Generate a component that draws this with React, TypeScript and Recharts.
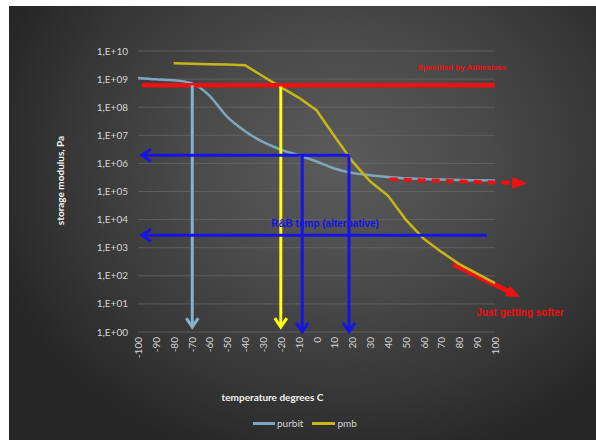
import React from 'react';
import {
  ComposedChart,
  Line,
  XAxis,
  YAxis,
  CartesianGrid,
  ReferenceLine,
  ReferenceDot,
  Label,
} from 'recharts';

// ---- data ----
const temps = [-100, -90, -80, -70, -60, -50, -40, -30, -20, -10, 0, 10, 20, 30, 40, 50, 60, 70, 80, 90, 100];
const purbit = [1.1e9, 9.8e8, 9.1e8, 7.2e8, 2.6e8, 4.5e7, 1.4e7, 5.8e6, 3.1e6, 1.95e6, 1.17e6, 6.6e5, 4.6e5, 3.8e5, 3.3e5, 2.95e5, 2.8e5, 2.65e5, 2.55e5, 2.5e5, 2.45e5];
const pmb = [null, null, 3.7e9, 3.55e9, 3.4e9, 3.3e9, 3.1e9, 1.26e9, 5.2e8, 2.2e8, 7.8e7, 9.5e6, 1.2e6, 2.3e5, 7.2e4, 1.0e4, 2.1e3, 7.1e2, 2.6e2, 1.2e2, 55];
const yTicks = [1, 1e1, 1e2, 1e3, 1e4, 1e5, 1e6, 1e7, 1e8, 1e9, 1e10];
const seriesNames = ['purbit', 'pmb'];
const axisTitles = { x: 'temperature degrees C', y: 'storage modulus, Pa' };
const notes = {
  spec: 'Specified by Adhesives',
  rb: 'R&B temp (alternative)',
  softer: 'Just getting softer',
};

const data = temps.map((t, i) => ({ t, purbit: purbit[i], pmb: pmb[i] }));

const FONT = 'Lato, "Open Sans", sans-serif';
const NOTE_FONT = '"Liberation Sans", Arial, sans-serif';
const C_PURBIT = '#7ea7bd';
const C_PMB = '#c8b617';
const C_RED = '#ee1111';
const C_BLUE = '#1414e6';
const C_YELLOW = '#ffff10';
const C_LBLUE = '#84b3c9';

const fmtY = (v: number) => {
  const e = Math.round(Math.log10(v));
  return '1,E+' + (e < 10 ? '0' + e : String(e));
};

type ArrowOpts = { color: string; width: number; head: number; half: number; filled?: boolean; dash?: string };
const arrow = (o: ArrowOpts) => (props: any) => {
  const { x1, y1, x2, y2 } = props;
  const dx = x2 - x1;
  const dy = y2 - y1;
  const len = Math.hypot(dx, dy) || 1;
  const ux = dx / len;
  const uy = dy / len;
  const px = -uy;
  const py = ux;
  const bx = x2 - ux * o.head;
  const by = y2 - uy * o.head;
  if (o.filled) {
    return (
      <g>
        <line x1={x1} y1={y1} x2={bx} y2={by} stroke={o.color} strokeWidth={o.width} strokeDasharray={o.dash} />
        <polygon
          points={`${x2},${y2} ${bx + px * o.half},${by + py * o.half} ${bx - px * o.half},${by - py * o.half}`}
          fill={o.color}
        />
      </g>
    );
  }
  return (
    <g>
      <line x1={x1} y1={y1} x2={x2 - ux * 1.5} y2={y2 - uy * 1.5} stroke={o.color} strokeWidth={o.width} />
      <polyline
        points={`${bx + px * o.half},${by + py * o.half} ${x2},${y2} ${bx - px * o.half},${by - py * o.half}`}
        fill="none"
        stroke={o.color}
        strokeWidth={o.width}
        strokeLinejoin="miter"
      />
    </g>
  );
};

const plainLine = (color: string, width: number) => (props: any) => (
  <line x1={props.x1} y1={props.y1} x2={props.x2} y2={props.y2} stroke={color} strokeWidth={width} />
);

const textMark = (text: string, color: string, size: number) => (props: any) => (
  <text
    x={props.cx}
    y={props.cy}
    textAnchor="middle"
    dominantBaseline="central"
    fill={color}
    fontSize={size}
    fontWeight="bold"
    fontFamily={NOTE_FONT}
  >
    {text}
  </text>
);

const XTick = (props: any) => {
  const { x, y, payload } = props;
  return (
    <text
      x={x}
      y={y}
      transform={`rotate(-90 ${x} ${y})`}
      textAnchor="end"
      dominantBaseline="central"
      fill="#d4d4d4"
      fontSize={10}
      fontFamily={FONT}
    >
      {payload.value}
    </text>
  );
};

export default function App() {
  return (
    <div
      style={{
        position: 'absolute',
        left: 9,
        top: 6,
        width: 587,
        height: 434,
        background:
          'radial-gradient(ellipse 62% 72% at 56% 36%, #5b5b5b 0%, #4a4a4a 40%, #363636 75%, #262626 100%)',
      }}
    >
      <ComposedChart
        width={587}
        height={434}
        data={data}
        margin={{ top: 45, right: 101, left: 0, bottom: 0 }}
      >
        <CartesianGrid horizontal vertical={false} stroke="#6a6a6a" strokeOpacity={0.7} />
        <XAxis
          dataKey="t"
          type="number"
          domain={[-100, 100]}
          ticks={temps}
          interval={0}
          height={108}
          axisLine={false}
          tickLine={false}
          tickSize={0}
          tickMargin={5}
          tick={<XTick />}
        >
          <Label
            content={(p: any) => {
              const vb = p.viewBox;
              return (
                <text
                  x={vb.x + vb.width / 2 - 44}
                  y={vb.y + 65}
                  textAnchor="middle"
                  dominantBaseline="central"
                  fill="#f2f2f2"
                  fontSize={10}
                  fontWeight="bold"
                  fontFamily={FONT}
                >
                  {axisTitles.x}
                </text>
              );
            }}
          />
        </XAxis>
        <YAxis
          type="number"
          scale="log"
          domain={[1, 1e10]}
          allowDataOverflow
          ticks={yTicks}
          tickFormatter={fmtY}
          width={129}
          axisLine={false}
          tickLine={false}
          tickSize={0}
          tickMargin={10}
          tick={{ fill: '#d4d4d4', fontSize: 10, fontFamily: FONT }}
        >
          <Label
            content={(p: any) => {
              const vb = p.viewBox;
              const cx = vb.x + 51;
              const cy = vb.y + vb.height / 2 - 11;
              return (
                <text
                  x={cx}
                  y={cy}
                  transform={`rotate(-90 ${cx} ${cy})`}
                  textAnchor="middle"
                  dominantBaseline="central"
                  fill="#f2f2f2"
                  fontSize={10}
                  fontWeight="bold"
                  fontFamily={FONT}
                >
                  {axisTitles.y}
                </text>
              );
            }}
          />
        </YAxis>

        {/* red arrow along pmb tail (drawn under the series) */}
        <ReferenceLine
          segment={[{ x: 76.6, y: 257 }, { x: 114, y: 17.6 }]}
          ifOverflow="visible"
          shape={arrow({ color: C_RED, width: 5, head: 14, half: 6, filled: true })}
        />

        <Line
          type="monotone"
          dataKey="purbit"
          name={seriesNames[0]}
          stroke={C_PURBIT}
          strokeWidth={2.5}
          dot={false}
          isAnimationActive={false}
        />
        <Line
          type="linear"
          dataKey="pmb"
          name={seriesNames[1]}
          stroke={C_PMB}
          strokeWidth={2.5}
          dot={false}
          connectNulls={false}
          isAnimationActive={false}
        />

        {/* red specification line */}
        <ReferenceLine
          segment={[{ x: -97.8, y: 6e8 }, { x: 100, y: 6e8 }]}
          ifOverflow="visible"
          shape={plainLine(C_RED, 4.5)}
        />
        {/* vertical arrows */}
        <ReferenceLine
          segment={[{ x: -69.6, y: 6e8 }, { x: -69.6, y: 1.5 }]}
          ifOverflow="visible"
          shape={arrow({ color: C_LBLUE, width: 3, head: 9, half: 6 })}
        />
        <ReferenceLine
          segment={[{ x: -20, y: 5.5e8 }, { x: -20, y: 1.5 }]}
          ifOverflow="visible"
          shape={arrow({ color: C_YELLOW, width: 3, head: 9, half: 6 })}
        />
        <ReferenceLine
          segment={[{ x: -8, y: 1.95e6 }, { x: -8, y: 1.02 }]}
          ifOverflow="visible"
          shape={arrow({ color: C_BLUE, width: 3, head: 9, half: 6 })}
        />
        <ReferenceLine
          segment={[{ x: 18.2, y: 1.95e6 }, { x: 18.2, y: 1.02 }]}
          ifOverflow="visible"
          shape={arrow({ color: C_BLUE, width: 3, head: 9, half: 6 })}
        />
        {/* horizontal blue arrows */}
        <ReferenceLine
          segment={[{ x: 18.2, y: 1.95e6 }, { x: -97.8, y: 1.95e6 }]}
          ifOverflow="visible"
          shape={arrow({ color: C_BLUE, width: 3, head: 9, half: 6 })}
        />
        <ReferenceLine
          segment={[{ x: 95.5, y: 2.75e3 }, { x: -97.8, y: 2.75e3 }]}
          ifOverflow="visible"
          shape={arrow({ color: C_BLUE, width: 3, head: 9, half: 6 })}
        />
        {/* red dashed arrow along purbit plateau */}
        <ReferenceLine
          segment={[{ x: 41, y: 2.7e5 }, { x: 118, y: 1.95e5 }]}
          ifOverflow="visible"
          shape={arrow({ color: C_RED, width: 4, head: 15, half: 6, filled: true, dash: '8 6' })}
        />

        {/* annotations */}
        <ReferenceDot x={81.5} y={2.6e9} r={0} ifOverflow="visible" shape={textMark(notes.spec, C_RED, 8)} />
        <ReferenceDot x={4.8} y={7.4e3} r={0} ifOverflow="visible" shape={textMark(notes.rb, C_BLUE, 10)} />
        <ReferenceDot x={114} y={5} r={0} ifOverflow="visible" shape={textMark(notes.softer, C_RED, 10)} />
      </ComposedChart>

      {/* legend */}
      <div
        style={{
          position: 'absolute',
          left: 244,
          top: 411,
          display: 'flex',
          alignItems: 'center',
          fontFamily: FONT,
          fontSize: 10,
          color: '#d4d4d4',
          whiteSpace: 'nowrap',
        }}
      >
        <span style={{ display: 'inline-block', width: 22, height: 3, background: C_PURBIT, marginRight: 2 }} />
        <span style={{ marginRight: 9 }}>{seriesNames[0]}</span>
        <span style={{ display: 'inline-block', width: 23, height: 3, background: C_PMB, marginRight: 2 }} />
        <span>{seriesNames[1]}</span>
      </div>
    </div>
  );
}
